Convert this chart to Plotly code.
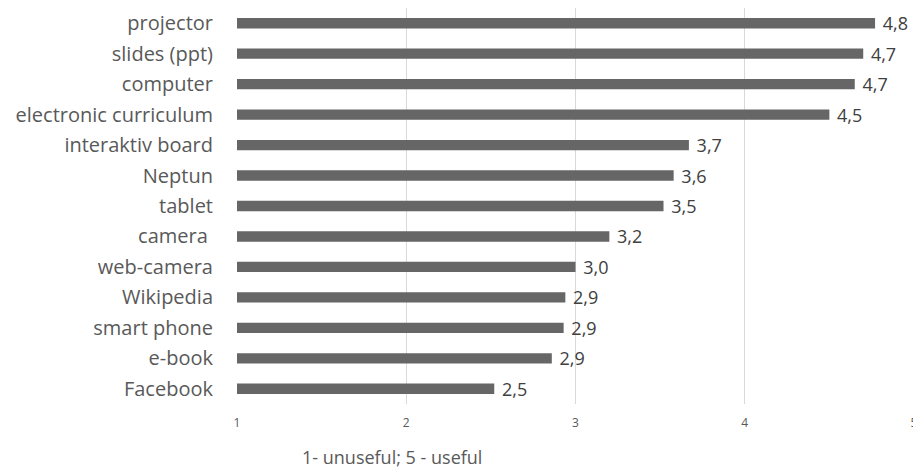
import plotly.graph_objects as go

categories = ["projector", "slides (ppt)", "computer", "electronic curriculum",
              "interaktiv board", "Neptun", "tablet", "camera ", "web-camera",
              "Wikipedia", "smart phone", "e-book", "Facebook"]
values = [4.77, 4.70, 4.65, 4.50, 3.67, 3.58, 3.52, 3.20, 3.00, 2.94, 2.93, 2.86, 2.52]
tick_values = [1, 2, 3, 4, 5]
axis_note = "1- unuseful; 5 - useful"

# the page body adds an 8px offset; size figure so it ends at the window edge
OFF = 8
W, H = 921 - OFF, 468 - OFF
L, R, T = 237 - OFF, 7, 0
plot_bottom = 404 - OFF
B = H - plot_bottom

fig = go.Figure(go.Bar(
    x=values, y=categories, orientation="h",
    marker=dict(color="#666666", line=dict(width=0)),
    texttemplate=" %{x:.1f}", textposition="outside",
    textfont=dict(size=18, color="#404040"),
    constraintext="none",
    cliponaxis=False,
))

fig.update_layout(
    width=W, height=H,
    margin=dict(l=L, r=R, t=T, b=B, pad=0),
    paper_bgcolor="white", plot_bgcolor="white",
    separators=", ",
    bargap=0.66,
    showlegend=False,
    font=dict(family="Open Sans, sans-serif", color="#595959"),
    xaxis=dict(range=[1, 5], tickvals=tick_values, showgrid=True,
               gridcolor="#d9d9d9", gridwidth=1, zeroline=False,
               showline=False, ticks="", ticklabelstandoff=10,
               automargin=False,
               tickfont=dict(size=12, color="#595959")),
    yaxis=dict(autorange="reversed", showgrid=False, zeroline=False,
               ticks="", ticklabelstandoff=23, automargin=False,
               tickfont=dict(size=20, color="#595959")),
    annotations=[dict(text=axis_note,
                      x=(391.5 - 237) / (914 - 237), y=-(457 - 404) / (plot_bottom - T),
                      xref="paper", yref="paper", xanchor="center", yanchor="middle",
                      showarrow=False, font=dict(size=18, color="#595959"))],
)
fig.write_html("out.html")
